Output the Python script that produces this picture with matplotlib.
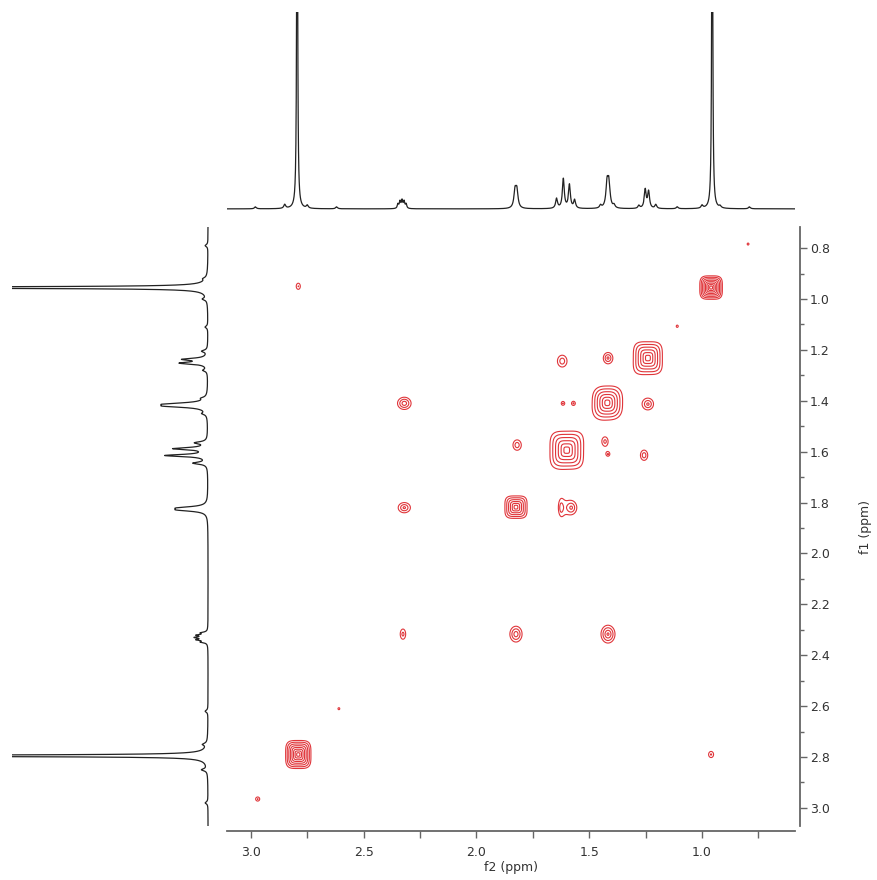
import numpy as np
import matplotlib
matplotlib.use("Agg")
import matplotlib.pyplot as plt
from matplotlib.ticker import MultipleLocator, FormatStrFormatter

W, H = 877, 880

# ── 1H trace (top = f2, left = f1) ── ppm, height (1 = full panel), half width
H1_PPM    = [2.98, 2.85, 2.795, 2.75, 2.62,
             2.312, 2.321, 2.330, 2.339, 2.348,
             1.829, 1.821, 1.645, 1.615, 1.588, 1.565,
             1.45, 1.421, 1.413, 1.39, 1.28, 1.252, 1.237, 1.205,
             1.11, 1.00, 0.955, 0.92, 0.79]
H1_HEIGHT = [0.010, 0.020, 2.5, 0.015, 0.010,
             0.022, 0.035, 0.040, 0.035, 0.022,
             0.085, 0.085, 0.050, 0.150, 0.120, 0.042,
             0.015, 0.120, 0.120, 0.015, 0.015, 0.095, 0.085, 0.020,
             0.010, 0.015, 2.5, 0.010, 0.010]
H1_HWHM   = [0.005, 0.005, 0.0022, 0.005, 0.005,
             0.0035, 0.0035, 0.0035, 0.0035, 0.0035,
             0.006, 0.006, 0.005, 0.005, 0.005, 0.005,
             0.005, 0.006, 0.006, 0.005, 0.005, 0.005, 0.005, 0.005,
             0.005, 0.005, 0.0022, 0.005, 0.005]
LEFT_SCALE = 1.42

# ── COSY cross / diagonal peaks ──
PK_F2     = [2.79, 0.96, 1.24, 1.42, 1.60, 1.825, 2.326, 1.825, 1.417,
             2.32, 2.32, 1.82, 1.62, 1.417, 1.24, 1.617, 1.57, 1.43, 1.417,
             1.257, 1.58, 1.625, 2.79, 0.96, 2.97, 0.796, 1.11, 2.61]
PK_F1     = [2.79, 0.955, 1.232, 1.408, 1.594, 1.818, 2.317, 2.317, 2.317,
             1.41, 1.82, 1.574, 1.244, 1.232, 1.413, 1.41, 1.41, 1.56, 1.61,
             1.614, 1.82, 1.82, 0.95, 2.79, 2.965, 0.784, 1.107, 2.61]
PK_RINGS  = [8, 8, 6, 6, 6, 6, 1.6, 3, 3.5,
             3, 2.5, 2, 2, 2.5, 2.5, 1.2, 1.2, 1.5, 1.1,
             2, 2.5, 1.3, 1.2, 1.3, 1.3, 1.05, 1.05, 1.05]
PK_HW2    = [0.056, 0.050, 0.064, 0.066, 0.074, 0.049, 0.012, 0.027, 0.031,
             0.030, 0.027, 0.018, 0.021, 0.020, 0.024, 0.006, 0.006, 0.011, 0.005,
             0.016, 0.024, 0.007, 0.009, 0.011, 0.009, 0.004, 0.004, 0.004]
PK_HW1    = [0.055, 0.046, 0.064, 0.065, 0.074, 0.044, 0.020, 0.031, 0.035,
             0.024, 0.020, 0.020, 0.023, 0.021, 0.022, 0.006, 0.006, 0.014, 0.005,
             0.020, 0.026, 0.020, 0.012, 0.012, 0.008, 0.004, 0.004, 0.004]
PK_SHAPE  = [4, 4, 4, 3, 4, 4, 2, 2, 2,
             2, 2, 2, 2, 2, 2, 2, 2, 2, 2,
             2, 2, 2, 2, 2, 2, 2, 2, 2]

XLIM = (3.106, 0.588)
YLIM = (3.071, 0.717)
RATIO = 1.45


def trace(ppm):
    y = np.zeros_like(ppm)
    for p, h, w in zip(H1_PPM, H1_HEIGHT, H1_HWHM):
        y += h * w**2 / ((ppm - p)**2 + w**2)
    return y


def cosy(xx, yy):
    z = np.zeros_like(xx)
    s = np.log(RATIO)
    for x0, y0, n, wx, wy, q in zip(PK_F2, PK_F1, PK_RINGS, PK_HW2, PK_HW1, PK_SHAPE):
        r = ((np.abs(xx - x0) / wx)**q + (np.abs(yy - y0) / wy)**q)**(1.0 / q)
        z += np.exp(s * n * (1 - r))
    return z


fig = plt.figure(figsize=(W / 100, H / 100), dpi=100)

# main 2D panel
ax = fig.add_axes([227 / W, 1 - 826 / H, 568 / W, 599 / H])
gx = np.linspace(XLIM[1], XLIM[0], 900)
gy = np.linspace(YLIM[1], YLIM[0], 900)
xx, yy = np.meshgrid(gx, gy)
zz = cosy(xx, yy)
levels = RATIO ** np.arange(0, 12)
ax.contour(xx, yy, zz, levels=levels, colors="#e0353a", linewidths=0.8)
ax.set_xlim(*XLIM)
ax.set_ylim(*YLIM)

for side in ("top", "left"):
    ax.spines[side].set_visible(False)
for side in ("bottom", "right"):
    ax.spines[side].set_position(("outward", 3.6))
    ax.spines[side].set_color("#666666")
    ax.spines[side].set_linewidth(1.3)
ax.yaxis.tick_right()
ax.yaxis.set_label_position("right")
ax.xaxis.set_major_locator(MultipleLocator(0.5))
ax.xaxis.set_minor_locator(MultipleLocator(0.25))
ax.yaxis.set_major_locator(MultipleLocator(0.2))
ax.yaxis.set_minor_locator(MultipleLocator(0.1))
ax.xaxis.set_major_formatter(FormatStrFormatter("%.1f"))
ax.yaxis.set_major_formatter(FormatStrFormatter("%.1f"))
ax.tick_params(axis="x", which="both", direction="out", length=5, width=1,
               color="#666666", labelsize=9, labelcolor="#333333", pad=6)
ax.tick_params(axis="y", which="major", direction="out", length=5, width=1,
               color="#666666", labelsize=9, labelcolor="#333333", pad=2)
ax.tick_params(axis="y", which="minor", direction="out", length=3, width=1, color="#666666")
ax.set_xlabel("f2 (ppm)", fontsize=9, color="#333333")
ax.set_ylabel("f1 (ppm)", fontsize=9, color="#333333", rotation=90)
ax.xaxis.set_label_coords(0.5, -0.058)
ax.yaxis.set_label_coords(1.112, 0.5)

# top 1D trace
axt = fig.add_axes([227 / W, 1 - 214 / H, 568 / W, 202 / H])
px = np.linspace(XLIM[1], XLIM[0], 8000)
axt.plot(px, trace(px), color="#222222", lw=0.9)
axt.set_xlim(*XLIM)
axt.set_ylim(-0.026, 1.0)
axt.axis("off")

# left 1D trace
axl = fig.add_axes([12 / W, 1 - 826 / H, 200 / W, 599 / H])
py = np.linspace(YLIM[1], YLIM[0], 8000)
axl.plot(trace(py) * LEFT_SCALE, py, color="#222222", lw=0.9)
axl.set_ylim(*YLIM)
axl.set_xlim(1.0, -0.02)
axl.axis("off")

fig.savefig("out.png", dpi=100)
